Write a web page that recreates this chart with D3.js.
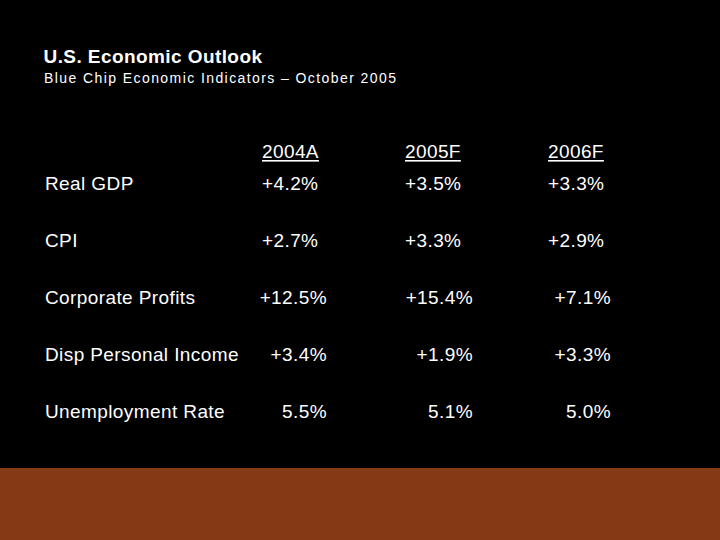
<!DOCTYPE html>
<html><head><meta charset="utf-8">
<script src="https://cdn.jsdelivr.net/npm/d3@7"></script>
<style>html,body{margin:0;padding:0;background:#000;}svg{display:block;}</style>
</head><body>
<script>
const title = "U.S. Economic Outlook";
const subtitle = "Blue Chip Economic Indicators \u2013 October 2005";
const columns = ["2004A", "2005F", "2006F"];
const indicators = ["Real GDP", "CPI", "Corporate Profits", "Disp Personal Income", "Unemployment Rate"];
const values2004A = ["+4.2%", "+2.7%", "+12.5%", "+3.4%", "5.5%"];
const values2005F = ["+3.5%", "+3.3%", "+15.4%", "+1.9%", "5.1%"];
const values2006F = ["+3.3%", "+2.9%", "+7.1%", "+3.3%", "5.0%"];
const series = [values2004A, values2005F, values2006F];

const W = 720, H = 540;
const svg = d3.select("body").append("svg").attr("width", W).attr("height", H);
svg.append("rect").attr("width", W).attr("height", H).attr("fill", "#000");
svg.append("rect").attr("x", 0).attr("y", 468).attr("width", W).attr("height", H - 468).attr("fill", "#833A15");

const font = "'Liberation Sans', Arial, sans-serif";
svg.append("text").attr("x", 43.5).attr("y", 63).attr("fill", "#fff")
  .attr("font-family", font).attr("font-weight", "bold").attr("font-size", 19)
  .attr("textLength", 218.5).attr("lengthAdjust", "spacing").text(title);
svg.append("text").attr("x", 44).attr("y", 83).attr("fill", "#fff")
  .attr("font-family", font).attr("font-size", 14)
  .attr("textLength", 352).attr("lengthAdjust", "spacing").text(subtitle);

const headerY = 158;
const y = d3.scalePoint().domain(d3.range(indicators.length)).range([190, 418]);
const colStart = d3.scaleOrdinal().domain(columns).range([262, 405, 548]);
const colEnd = d3.scaleOrdinal().domain(columns).range([327, 473, 611]);

const g = svg.append("g").attr("font-family", font).attr("font-size", 19)
  .attr("fill", "#fff").attr("letter-spacing", 0.4);

// header
columns.forEach(c => {
  const t = g.append("text").attr("x", colStart(c)).attr("y", headerY).text(c);
  const w = t.node().getComputedTextLength();
  g.append("rect").attr("x", colStart(c)).attr("y", headerY + 2).attr("width", w).attr("height", 1.6).attr("fill", "#fff");
});

indicators.forEach((name, i) => {
  g.append("text").attr("x", 45).attr("y", y(i)).text(name);
  columns.forEach((c, j) => {
    const startAligned = i < 2;
    g.append("text")
      .attr("x", startAligned ? colStart(c) : colEnd(c))
      .attr("y", y(i))
      .attr("text-anchor", startAligned ? "start" : "end")
      .text(series[j][i]);
  });
});
</script>
</body></html>
